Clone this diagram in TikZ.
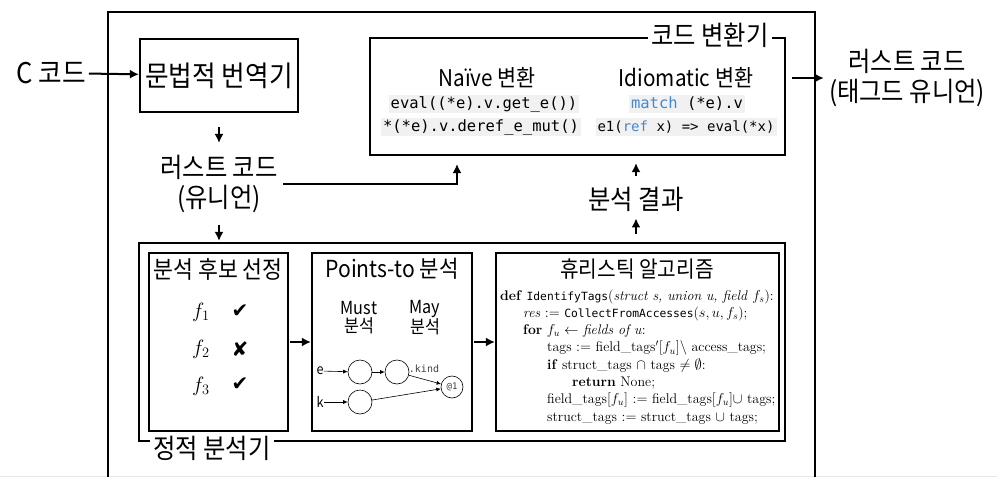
\documentclass[tikz,border=0pt]{standalone}
\usepackage{amsmath,amssymb}
\usepackage{fontspec}
\newfontfamily\kr[FakeStretch=0.9]{Noto Sans CJK KR}
\newfontfamily\cmono{DejaVu Sans Mono}
\newfontfamily\dsym{DejaVu Sans}
\usetikzlibrary{arrows.meta}
\definecolor{kwblue}{RGB}{70,135,205}
\definecolor{codebg}{RGB}{241,241,241}
\newcommand\krs[2]{\kr\fontsize{#1}{#2}\selectfont}
\newcommand\am[1]{{\cmono\fontsize{11.3}{16}\selectfont #1}}
\begin{document}
\begin{tikzpicture}[x=1pt,y=-1pt,
  boxs/.style={draw, line width=2.2pt, inner sep=0},
  arr/.style={line width=2pt, -{Latex[length=9pt,width=9pt]}},
  sarr/.style={line width=0.6pt, -{Latex[length=4.5pt,width=4pt]}},
  txt/.style={inner sep=0, align=center},
  bigt/.style={txt, font=\krs{27}{30}},
  midt/.style={txt, font=\krs{24}{28}},
  smallt/.style={txt, font=\krs{18}{18}},
  lbl/.style={fill=white, inner xsep=3pt, inner ysep=2pt, font=\krs{27}{30}},
  codeb/.style={fill=codebg, inner xsep=2pt, inner ysep=1pt, text height=12pt, text depth=4pt, font=\cmono\fontsize{15.5}{18}\selectfont},
  circ/.style={draw, circle, line width=0.6pt, minimum size=24pt, inner sep=0},
  alg/.style={anchor=base west, inner sep=0, font=\fontsize{14}{16}\selectfont},
  mk/.style={inner sep=0, font=\dsym\fontsize{20}{20}\selectfont},
  fv/.style={inner sep=0, font=\fontsize{22}{22}\selectfont}
]
\useasboundingbox (0,0) rectangle (997,477);
\draw[gray!18, line width=1pt] (0,476.5) -- (997,476.5);
% outer frame (bottom edge lies outside the page)
\node[draw, line width=2pt, minimum width=707pt, minimum height=480pt, inner sep=0] (outer) at (461.5,252) {};

% top row
\node[txt, font=\krs{28.5}{30}] (cc) at (51,73) {C 코드};
\node[boxs, minimum width=158pt, minimum height=73pt, font=\krs{28.5}{30}] (trans) at (219,75.5) {문법적 번역기};
\node[bigt] (rust) at (219,184) {러스트 코드\\(유니언)};

\node[boxs, minimum width=415pt, minimum height=117pt] (conv) at (577.5,96.5) {};
\node[lbl] (convl) at (710,35) {코드 변환기};
\node[txt, font=\krs{23}{28}] (naive) at (487,78) {Naïve 변환};
\node[txt, font=\krs{23}{28}] (idiom) at (686,78) {Idiomatic 변환};
\node[codeb] (n1) at (484,104) {eval((*e).v.get\_e())};
\node[codeb] (n2) at (481,127) {*(*e).v.deref\_e\_mut()};
\node[codeb] (i1) at (687,104) {\textcolor{kwblue}{match} (*e).v};
\node[codeb, font=\cmono\fontsize{14}{18}\selectfont] (i2) at (686,127) {e1(\textcolor{kwblue}{ref} x) => eval(*x)};

\node[bigt] (out) at (907,78) {러스트 코드\\(태그드 유니언)};
\node[bigt] (res) at (636,199) {분석 결과};

% static analyser
\node[boxs, minimum width=646pt, minimum height=198pt] (static) at (462,342) {};
\node[lbl] (staticl) at (212,448) {정적 분석기};
\node[boxs, minimum width=139pt, minimum height=178pt] (cand) at (218.5,342) {};
\node[boxs, minimum width=160pt, minimum height=178pt] (pts) at (392,342) {};
\node[boxs, minimum width=283pt, minimum height=178pt] (heur) at (637.5,342) {};

\node[midt] (candt) at (218,269) {분석 후보 선정};
\node[fv] (f1) at (201,312) {$f_1$};
\node[mk] (m1) at (240,311) {✔};
\node[fv] (f2) at (201,349) {$f_2$};
\node[mk] (m2) at (240,349) {✘};
\node[fv] (f3) at (201,386) {$f_3$};
\node[mk] (m3) at (240,384) {✔};

\node[txt, font=\krs{23.5}{28}] (ptst) at (392,269) {Points-to 분석};
\node[smallt] (must) at (359,318) {Must\\분석};
\node[smallt] (may) at (425,318) {May\\분석};
\node[txt, font=\krs{14}{14}] (ve) at (320,371) {e};
\node[txt, font=\krs{14}{14}] (vk) at (320,402) {k};
\node[circ] (c1) at (360,372) {};
\node[circ] (c2) at (397,372) {};
\node[circ] (c3) at (360,402) {};
\node[circ, minimum size=22pt, font=\cmono\fontsize{9}{9}\selectfont, text=black!75] (at) at (452,387) {@1};
\node[inner sep=0, font=\cmono\fontsize{10}{10}\selectfont, text=black!75] (kind) at (424,369) {.kind};
\draw[sarr] (ve) -- (c1);
\draw[sarr] (c1) -- (c2);
\draw[sarr] (vk) -- (c3);
\draw[sarr] (c2) -- (at);
\draw[sarr] (c3) -- (at);

\node[txt, font=\krs{22.5}{26}] (heurt) at (637,269) {휴리스틱 알고리즘};
\node[alg] (l1) at (500,300) {\textbf{def} \am{IdentifyTags}(\textit{struct s, union u, field} $f_s$):};
\node[alg] (l2) at (523,317.3) {\textit{res} $:=$ \am{CollectFromAccesses}($s, u, f_s$);};
\node[alg] (l3) at (523,334.6) {\textbf{for} $f_u \leftarrow$ \textit{fields of u}:};
\node[alg] (l4) at (547,351.9) {tags $:=$ field\_tags$'[f_u]\setminus$ access\_tags;};
\node[alg] (l5) at (547,369.2) {\textbf{if} struct\_tags $\cap$ tags $\neq\emptyset$:};
\node[alg] (l6) at (572,386.5) {\textbf{return} None;};
\node[alg] (l7) at (547,403.8) {field\_tags$[f_u]$ $:=$ field\_tags$[f_u]\cup$ tags;};
\node[alg] (l8) at (547,421.1) {struct\_tags $:=$ struct\_tags $\cup$ tags;};

% connectors
\coordinate (cin) at (457,164);
\draw[arr, shorten <=3pt] (cc) -- (trans);
\draw[arr, shorten <=14pt, shorten >=12pt] (trans.south) -- (rust.north);
\draw[arr, shorten <=12pt, shorten >=1pt] (rust.south) -- (rust.south |- static.north);
\draw[arr, shorten <=5pt] (rust.east) -| (cin);
\draw[arr, shorten <=6pt, shorten >=5pt] (out.west -| conv.east) -- (out.west);
\draw[arr, shorten <=11pt, shorten >=7pt] (res.north) -- (res.north |- conv.south);
\draw[arr, shorten <=8pt, shorten >=7pt] (res.south |- static.north) -- (res.south);
\draw[arr, shorten <=1pt] (cand) -- (pts);
\draw[arr, shorten <=1pt] (pts) -- (heur);
\end{tikzpicture}
\end{document}
